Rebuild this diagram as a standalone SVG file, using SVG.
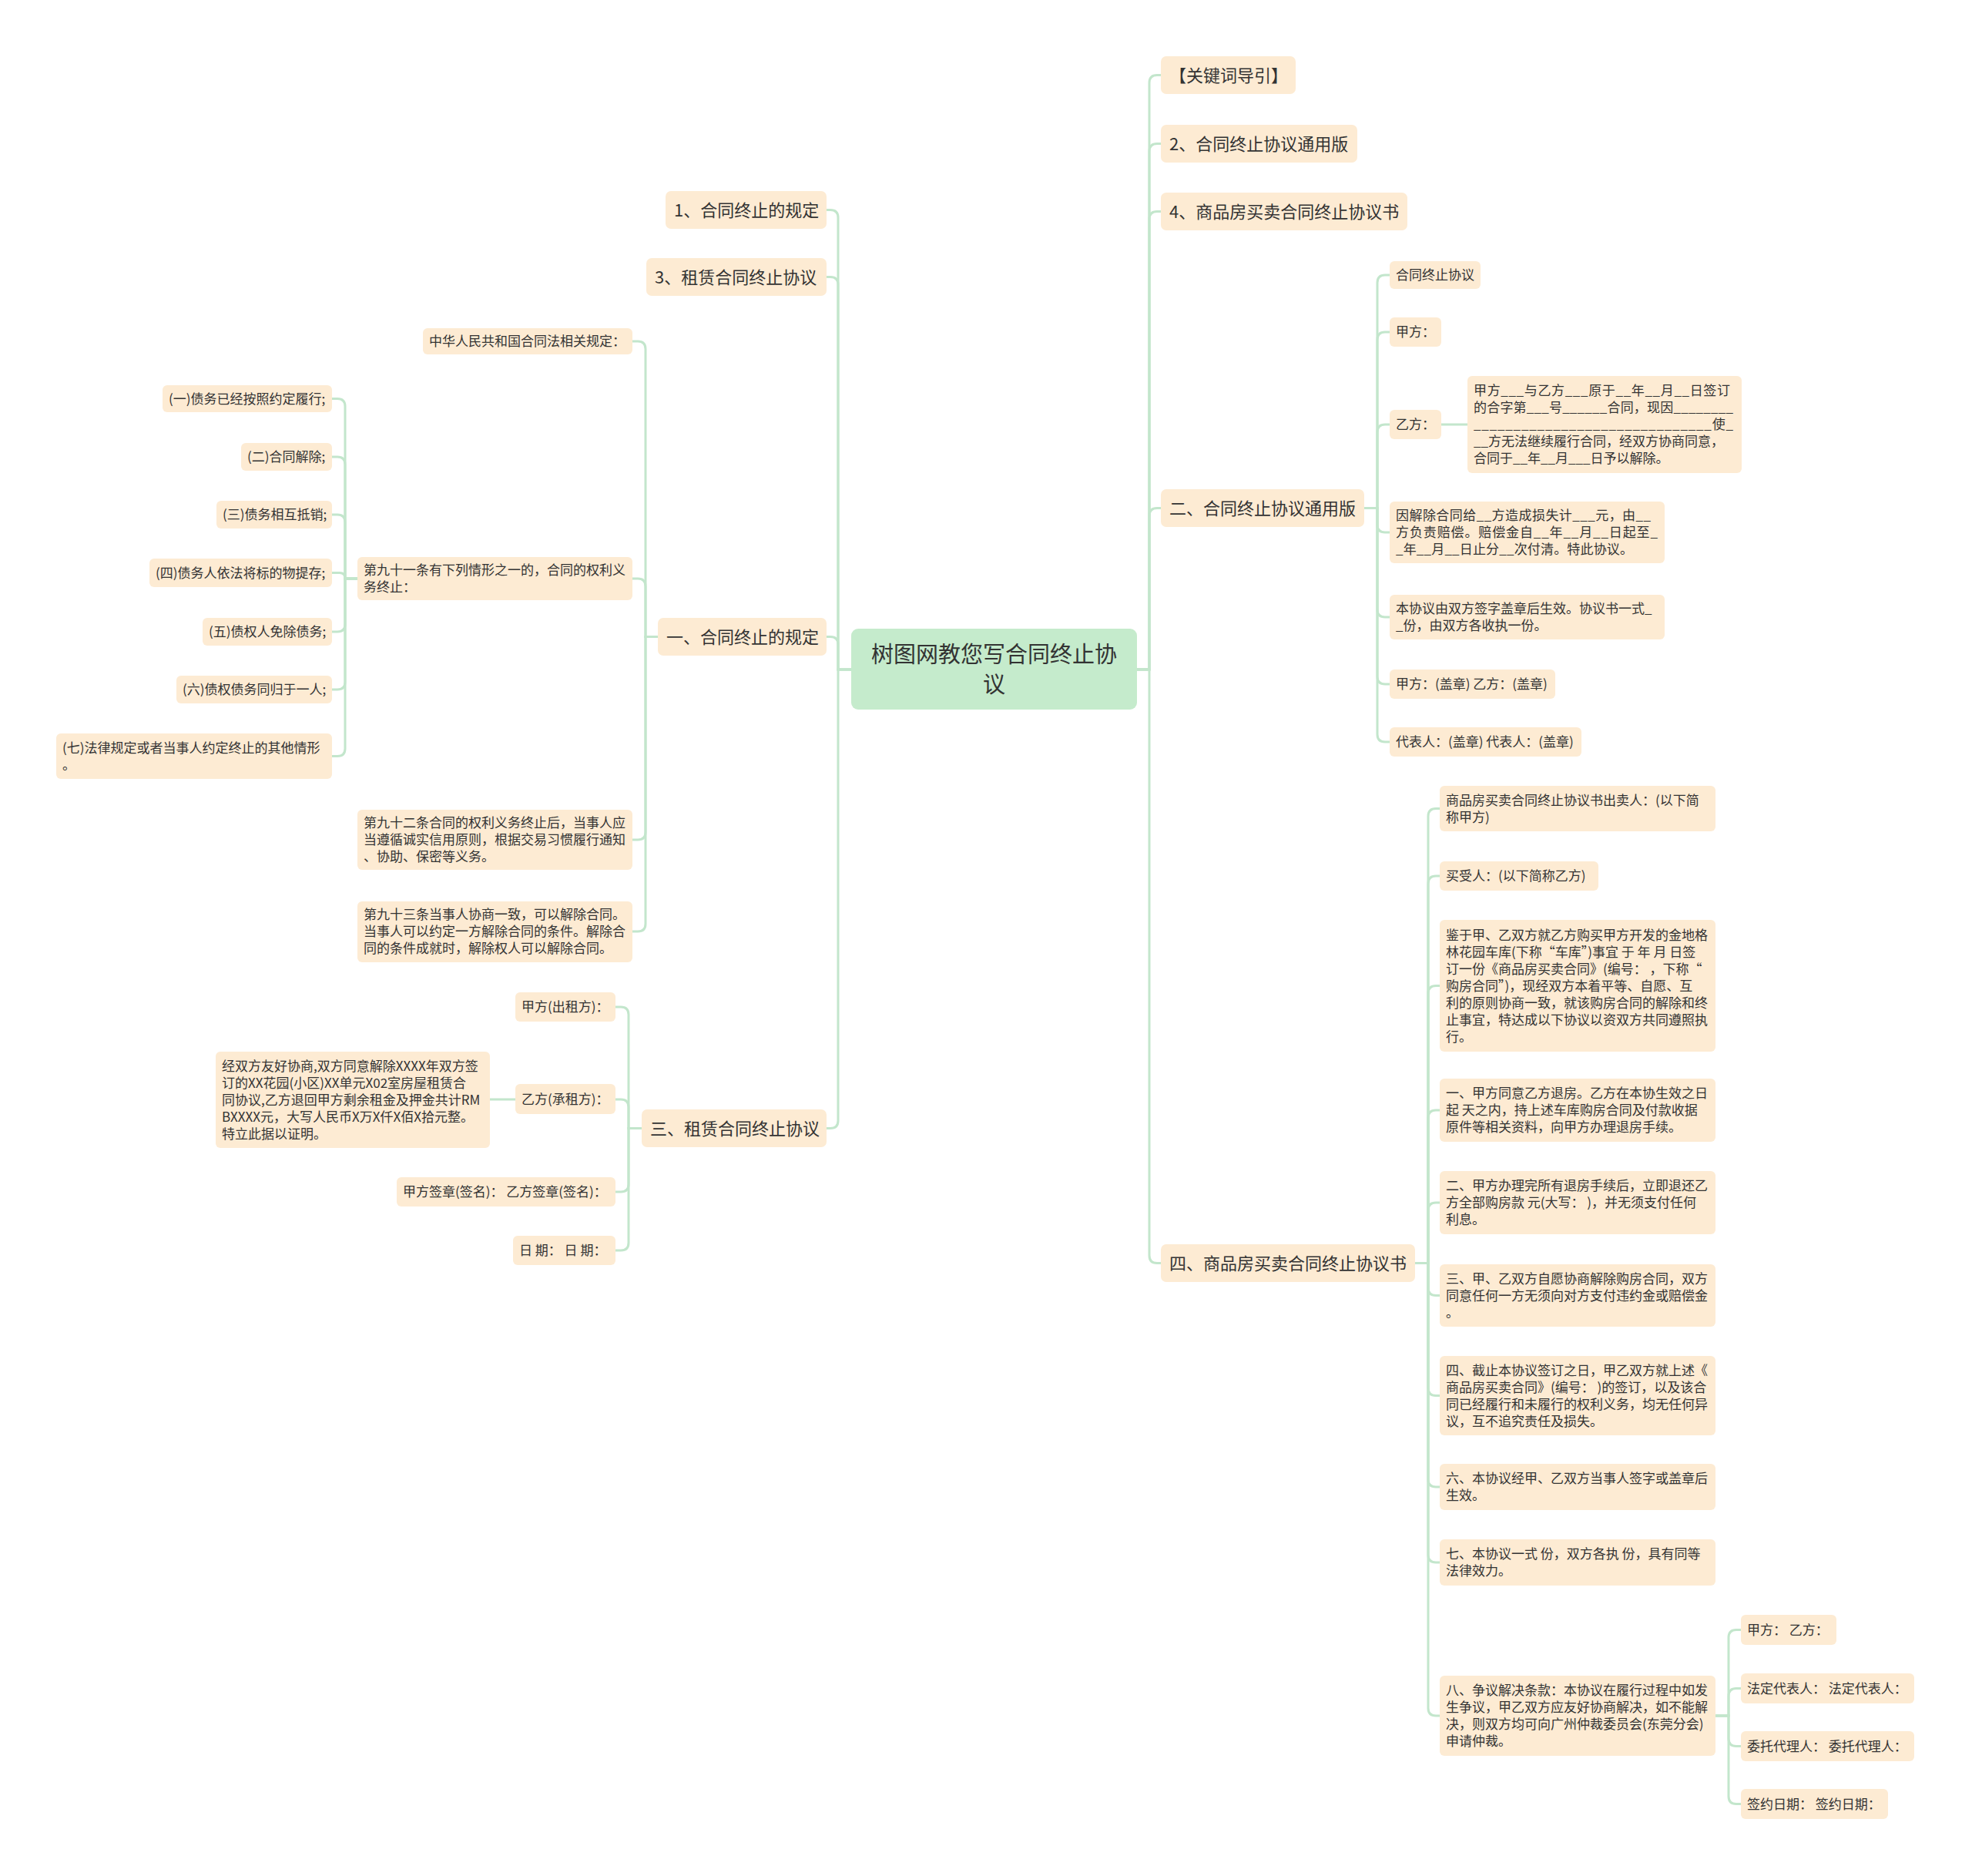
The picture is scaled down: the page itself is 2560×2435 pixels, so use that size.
<svg xmlns="http://www.w3.org/2000/svg" width="2560" height="2435" viewBox="0 0 2560 2435">
<style>
.n rect{fill:#fdebd3;}
.c rect{fill:#c5ebcc;}
text{font-family:"Noto Sans CJK SC","Noto Sans",sans-serif;fill:#333333;}
.s{font-size:17px;}
.m{font-size:22px;}
.b{font-size:29px;}
#connectors path{fill:none;stroke:#c3e6cc;stroke-width:3;stroke-linecap:round;}
</style>
<rect x="0" y="0" width="2560" height="2435" fill="#ffffff"/>
<g id="connectors">
<path d="M1105 869 H1088 V282.5 Q1088 272.5 1078 272.5 H1073"/>
<path d="M1105 869 H1088 V369.5 Q1088 359.5 1078 359.5 H1073"/>
<path d="M1105 869 H1088 V836.5 Q1088 826.5 1078 826.5 H1073"/>
<path d="M1105 869 H1088 V1454.5 Q1088 1464.5 1078 1464.5 H1073"/>
<path d="M1476 869 H1492 V107.5 Q1492 97.5 1502 97.5 H1507"/>
<path d="M1476 869 H1492 V196.5 Q1492 186.5 1502 186.5 H1507"/>
<path d="M1476 869 H1492 V284.5 Q1492 274.5 1502 274.5 H1507"/>
<path d="M1476 869 H1492 V669.5 Q1492 659.5 1502 659.5 H1507"/>
<path d="M1476 869 H1492 V1629.5 Q1492 1639.5 1502 1639.5 H1507"/>
<path d="M854 826.5 H838 V453 Q838 443 828 443 H821"/>
<path d="M854 826.5 H838 V761 Q838 751 828 751 H821"/>
<path d="M854 826.5 H838 V1080 Q838 1090 828 1090 H821"/>
<path d="M854 826.5 H838 V1199 Q838 1209 828 1209 H821"/>
<path d="M464 751 H448 V527.5 Q448 517.5 438 517.5 H431"/>
<path d="M464 751 H448 V603 Q448 593 438 593 H431"/>
<path d="M464 751 H448 V678 Q448 668 438 668 H431"/>
<path d="M464 751 H448 Q448 743.5 441 743.5 H431"/>
<path d="M464 751 H448 V810 Q448 820 438 820 H431"/>
<path d="M464 751 H448 V885 Q448 895 438 895 H431"/>
<path d="M464 751 H448 V971.5 Q448 981.5 438 981.5 H431"/>
<path d="M833 1464.5 H816 V1317 Q816 1307 806 1307 H799"/>
<path d="M833 1464.5 H816 V1437 Q816 1427 806 1427 H799"/>
<path d="M833 1464.5 H816 V1537 Q816 1547 806 1547 H799"/>
<path d="M833 1464.5 H816 V1613 Q816 1623 806 1623 H799"/>
<path d="M669 1427 H636"/>
<path d="M1771 659.5 H1788 V367 Q1788 357 1798 357 H1804"/>
<path d="M1771 659.5 H1788 V441 Q1788 431 1798 431 H1804"/>
<path d="M1771 659.5 H1788 V561 Q1788 551 1798 551 H1804"/>
<path d="M1771 659.5 H1788 V681 Q1788 691 1798 691 H1804"/>
<path d="M1771 659.5 H1788 V791 Q1788 801 1798 801 H1804"/>
<path d="M1771 659.5 H1788 V878 Q1788 888 1798 888 H1804"/>
<path d="M1771 659.5 H1788 V953 Q1788 963 1798 963 H1804"/>
<path d="M1871 551 H1905"/>
<path d="M1837 1639.5 H1854 V1059.5 Q1854 1049.5 1864 1049.5 H1869"/>
<path d="M1837 1639.5 H1854 V1147 Q1854 1137 1864 1137 H1869"/>
<path d="M1837 1639.5 H1854 V1289.5 Q1854 1279.5 1864 1279.5 H1869"/>
<path d="M1837 1639.5 H1854 V1451 Q1854 1441 1864 1441 H1869"/>
<path d="M1837 1639.5 H1854 V1571 Q1854 1561 1864 1561 H1869"/>
<path d="M1837 1639.5 H1854 V1671.5 Q1854 1681.5 1864 1681.5 H1869"/>
<path d="M1837 1639.5 H1854 V1801.5 Q1854 1811.5 1864 1811.5 H1869"/>
<path d="M1837 1639.5 H1854 V1920 Q1854 1930 1864 1930 H1869"/>
<path d="M1837 1639.5 H1854 V2018 Q1854 2028 1864 2028 H1869"/>
<path d="M1837 1639.5 H1854 V2217 Q1854 2227 1864 2227 H1869"/>
<path d="M2227 2227 H2244 V2125.5 Q2244 2115.5 2254 2115.5 H2260"/>
<path d="M2227 2227 H2244 V2201.5 Q2244 2191.5 2254 2191.5 H2260"/>
<path d="M2227 2227 H2244 V2256.5 Q2244 2266.5 2254 2266.5 H2260"/>
<path d="M2227 2227 H2244 V2331.5 Q2244 2341.5 2254 2341.5 H2260"/>
</g>

<g id="center" class="c">
<rect x="1105" y="816" width="371" height="105" rx="9"/>
<text class="b" x="1290.5" y="860" text-anchor="middle">树图网教您写合同终止协</text>
<text class="b" x="1290.5" y="899" text-anchor="middle">议</text>
</g>

<g id="l1a" class="n"><rect x="864" y="248" width="209" height="49" rx="7"/><text class="m" x="875" y="280.5">1、合同终止的规定</text></g>
<g id="l1b" class="n"><rect x="839" y="335" width="234" height="49" rx="7"/><text class="m" x="850" y="367.5">3、租赁合同终止协议</text></g>
<g id="l1c" class="n"><rect x="854" y="802" width="219" height="49" rx="7"/><text class="m" x="865" y="834.5">一、合同终止的规定</text></g>
<g id="l1d" class="n"><rect x="833" y="1440" width="240" height="49" rx="7"/><text class="m" x="844" y="1472.5">三、租赁合同终止协议</text></g>

<g id="a1" class="n"><rect x="549" y="426" width="272" height="34" rx="6"/><text class="s" x="557" y="449">中华人民共和国合同法相关规定：</text></g>
<g id="a2" class="n"><rect x="464" y="723" width="357" height="56" rx="6"/><text class="s" x="472" y="746">第九十一条有下列情形之一的，合同的权利义</text><text class="s" x="472" y="768">务终止：</text></g>
<g id="a3" class="n"><rect x="464" y="1051" width="357" height="78" rx="6"/><text class="s" x="472" y="1074">第九十二条合同的权利义务终止后，当事人应</text><text class="s" x="472" y="1096">当遵循诚实信用原则，根据交易习惯履行通知</text><text class="s" x="472" y="1118">、协助、保密等义务。</text></g>
<g id="a4" class="n"><rect x="464" y="1170" width="357" height="79" rx="6"/><text class="s" x="472" y="1193">第九十三条当事人协商一致，可以解除合同。</text><text class="s" x="472" y="1215">当事人可以约定一方解除合同的条件。解除合</text><text class="s" x="472" y="1237">同的条件成就时，解除权人可以解除合同。</text></g>

<g id="b1" class="n"><rect x="211" y="500" width="220" height="35" rx="6"/><text class="s" x="219" y="523.5">(一)债务已经按照约定履行;</text></g>
<g id="b2" class="n"><rect x="313" y="575" width="118" height="36" rx="6"/><text class="s" x="321" y="599">(二)合同解除;</text></g>
<g id="b3" class="n"><rect x="281" y="650" width="150" height="36" rx="6"/><text class="s" x="289" y="674">(三)债务相互抵销;</text></g>
<g id="b4" class="n"><rect x="194" y="725" width="237" height="37" rx="6"/><text class="s" x="202" y="749.5">(四)债务人依法将标的物提存;</text></g>
<g id="b5" class="n"><rect x="263" y="802" width="168" height="36" rx="6"/><text class="s" x="271" y="826">(五)债权人免除债务;</text></g>
<g id="b6" class="n"><rect x="229" y="877" width="202" height="36" rx="6"/><text class="s" x="237" y="901">(六)债权债务同归于一人;</text></g>
<g id="b7" class="n"><rect x="73" y="952" width="358" height="59" rx="6"/><text class="s" x="81" y="976.5">(七)法律规定或者当事人约定终止的其他情形</text><text class="s" x="81" y="998.5">。</text></g>

<g id="d1" class="n"><rect x="669" y="1288" width="130" height="38" rx="6"/><text class="s" x="677" y="1313">甲方(出租方)：</text></g>
<g id="d2" class="n"><rect x="669" y="1407" width="130" height="39" rx="6"/><text class="s" x="677" y="1433">乙方(承租方)：</text></g>
<g id="d2a" class="n"><rect x="280" y="1365" width="356" height="125" rx="6"/><text class="s" x="288" y="1389.5">经双方友好协商,双方同意解除XXXX年双方签</text><text class="s" x="288" y="1411.5">订的XX花园(小区)XX单元X02室房屋租赁合</text><text class="s" x="288" y="1433.5">同协议,乙方退回甲方剩余租金及押金共计RM</text><text class="s" x="288" y="1455.5">BXXXX元，大写人民币X万X仟X佰X拾元整。</text><text class="s" x="288" y="1477.5">特立此据以证明。</text></g>
<g id="d3" class="n"><rect x="515" y="1528" width="284" height="38" rx="6"/><text class="s" x="523" y="1553">甲方签章(签名)： 乙方签章(签名)：</text></g>
<g id="d4" class="n"><rect x="666" y="1604" width="133" height="38" rx="6"/><text class="s" x="674" y="1629">日 期： 日 期：</text></g>

<g id="r1a" class="n"><rect x="1507" y="73" width="175" height="49" rx="7"/><text class="m" x="1518" y="105.5">【关键词导引】</text></g>
<g id="r1b" class="n"><rect x="1507" y="162" width="255" height="49" rx="7"/><text class="m" x="1518" y="194.5">2、合同终止协议通用版</text></g>
<g id="r1c" class="n"><rect x="1507" y="250" width="320" height="49" rx="7"/><text class="m" x="1518" y="282.5">4、商品房买卖合同终止协议书</text></g>
<g id="r1d" class="n"><rect x="1507" y="635" width="264" height="49" rx="7"/><text class="m" x="1518" y="667.5">二、合同终止协议通用版</text></g>
<g id="r1e" class="n"><rect x="1507" y="1615" width="330" height="49" rx="7"/><text class="m" x="1518" y="1647.5">四、商品房买卖合同终止协议书</text></g>

<g id="e1" class="n"><rect x="1804" y="339" width="118" height="36" rx="6"/><text class="s" x="1812" y="363">合同终止协议</text></g>
<g id="e2" class="n"><rect x="1804" y="412" width="67" height="38" rx="6"/><text class="s" x="1812" y="437">甲方：</text></g>
<g id="e3" class="n"><rect x="1804" y="532" width="67" height="38" rx="6"/><text class="s" x="1812" y="557">乙方：</text></g>
<g id="e3a" class="n"><rect x="1905" y="488" width="356" height="126" rx="6"/><text class="s" x="1913" y="513" textLength="333" lengthAdjust="spacing">甲方___与乙方___原于__年__月__日签订</text><text class="s" x="1913" y="535" textLength="337" lengthAdjust="spacing">的合字第___号______合同，现因________</text><text class="s" x="1913" y="557" textLength="337" lengthAdjust="spacing">______________________________使_</text><text class="s" x="1913" y="579">__方无法继续履行合同，经双方协商同意，</text><text class="s" x="1913" y="601">合同于__年__月___日予以解除。</text></g>
<g id="e4" class="n"><rect x="1804" y="651" width="357" height="80" rx="6"/><text class="s" x="1812" y="675" textLength="331" lengthAdjust="spacing">因解除合同给__方造成损失计___元，由__</text><text class="s" x="1812" y="697" textLength="340" lengthAdjust="spacing">方负责赔偿。赔偿金自__年__月__日起至_</text><text class="s" x="1812" y="719" textLength="308" lengthAdjust="spacing">_年__月__日止分__次付清。特此协议。</text></g>
<g id="e5" class="n"><rect x="1804" y="772" width="357" height="58" rx="6"/><text class="s" x="1812" y="796">本协议由双方签字盖章后生效。协议书一式_</text><text class="s" x="1812" y="818">_份，由双方各收执一份。</text></g>
<g id="e6" class="n"><rect x="1804" y="869" width="215" height="38" rx="6"/><text class="s" x="1812" y="894">甲方：(盖章) 乙方：(盖章)</text></g>
<g id="e7" class="n"><rect x="1804" y="944" width="249" height="38" rx="6"/><text class="s" x="1812" y="969">代表人：(盖章) 代表人：(盖章)</text></g>

<g id="f1" class="n"><rect x="1869" y="1020" width="358" height="59" rx="6"/><text class="s" x="1877" y="1044.5">商品房买卖合同终止协议书出卖人：(以下简</text><text class="s" x="1877" y="1066.5">称甲方)</text></g>
<g id="f2" class="n"><rect x="1869" y="1118" width="206" height="38" rx="6"/><text class="s" x="1877" y="1143">买受人：(以下简称乙方)</text></g>
<g id="f3" class="n"><rect x="1869" y="1194" width="358" height="171" rx="6"/><text class="s" x="1877" y="1219.5">鉴于甲、乙双方就乙方购买甲方开发的金地格</text><text class="s" x="1877" y="1241.5">林花园车库(下称“车库”)事宜 于 年 月 日签</text><text class="s" x="1877" y="1263.5">订一份《商品房买卖合同》(编号： ，下称“</text><text class="s" x="1877" y="1285.5">购房合同”)，现经双方本着平等、自愿、互</text><text class="s" x="1877" y="1307.5">利的原则协商一致，就该购房合同的解除和终</text><text class="s" x="1877" y="1329.5">止事宜，特达成以下协议以资双方共同遵照执</text><text class="s" x="1877" y="1351.5">行。</text></g>
<g id="f4" class="n"><rect x="1869" y="1400" width="358" height="82" rx="6"/><text class="s" x="1877" y="1425">一、甲方同意乙方退房。乙方在本协生效之日</text><text class="s" x="1877" y="1447">起 天之内，持上述车库购房合同及付款收据</text><text class="s" x="1877" y="1469">原件等相关资料，向甲方办理退房手续。</text></g>
<g id="f5" class="n"><rect x="1869" y="1520" width="358" height="82" rx="6"/><text class="s" x="1877" y="1545">二、甲方办理完所有退房手续后，立即退还乙</text><text class="s" x="1877" y="1567">方全部购房款 元(大写： )，并无须支付任何</text><text class="s" x="1877" y="1589">利息。</text></g>
<g id="f6" class="n"><rect x="1869" y="1641" width="358" height="81" rx="6"/><text class="s" x="1877" y="1665.5">三、甲、乙双方自愿协商解除购房合同，双方</text><text class="s" x="1877" y="1687.5">同意任何一方无须向对方支付违约金或赔偿金</text><text class="s" x="1877" y="1709.5">。</text></g>
<g id="f7" class="n"><rect x="1869" y="1760" width="358" height="103" rx="6"/><text class="s" x="1877" y="1784.5">四、截止本协议签订之日，甲乙双方就上述《</text><text class="s" x="1877" y="1806.5">商品房买卖合同》(编号： )的签订，以及该合</text><text class="s" x="1877" y="1828.5">同已经履行和未履行的权利义务，均无任何异</text><text class="s" x="1877" y="1850.5">议，互不追究责任及损失。</text></g>
<g id="f8" class="n"><rect x="1869" y="1900" width="358" height="60" rx="6"/><text class="s" x="1877" y="1925">六、本协议经甲、乙双方当事人签字或盖章后</text><text class="s" x="1877" y="1947">生效。</text></g>
<g id="f9" class="n"><rect x="1869" y="1998" width="358" height="60" rx="6"/><text class="s" x="1877" y="2023">七、本协议一式 份，双方各执 份，具有同等</text><text class="s" x="1877" y="2045">法律效力。</text></g>
<g id="f10" class="n"><rect x="1869" y="2175" width="358" height="104" rx="6"/><text class="s" x="1877" y="2200">八、争议解决条款：本协议在履行过程中如发</text><text class="s" x="1877" y="2222">生争议，甲乙双方应友好协商解决，如不能解</text><text class="s" x="1877" y="2244">决，则双方均可向广州仲裁委员会(东莞分会)</text><text class="s" x="1877" y="2266">申请仲裁。</text></g>

<g id="g1" class="n"><rect x="2260" y="2096" width="124" height="39" rx="6"/><text class="s" x="2268" y="2121.5">甲方： 乙方：</text></g>
<g id="g2" class="n"><rect x="2260" y="2172" width="225" height="39" rx="6"/><text class="s" x="2268" y="2197.5">法定代表人： 法定代表人：</text></g>
<g id="g3" class="n"><rect x="2260" y="2247" width="225" height="39" rx="6"/><text class="s" x="2268" y="2272.5">委托代理人： 委托代理人：</text></g>
<g id="g4" class="n"><rect x="2260" y="2322" width="191" height="39" rx="6"/><text class="s" x="2268" y="2347.5">签约日期： 签约日期：</text></g>
</svg>
